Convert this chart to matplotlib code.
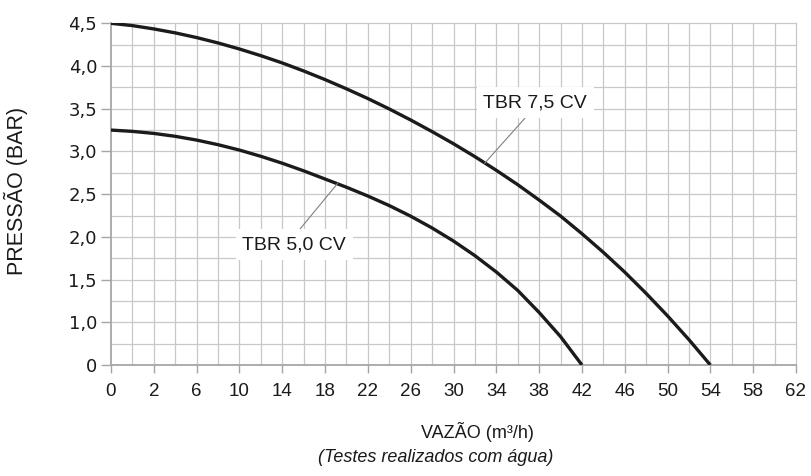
import numpy as np
import matplotlib
matplotlib.use("Agg")
import matplotlib.pyplot as plt

# ---- data ----
flow_ticks = [0, 2, 6, 10, 14, 18, 22, 26, 30, 34, 38, 42, 46, 50, 54, 58, 62]
pressure_ticks = [0, 1.0, 1.5, 2.0, 2.5, 3.0, 3.5, 4.0, 4.5]
pressure_labels = ["0", "1,0", "1,5", "2,0", "2,5", "3,0", "3,5", "4,0", "4,5"]

flow_75 = [0, 1, 2, 4, 6, 8, 10, 12, 14, 16, 18, 20, 22, 24, 26, 28, 30,
           32, 34, 36, 38, 40, 42, 44, 46, 48, 50, 52, 54]
pres_75 = [4.5, 4.473, 4.434, 4.388, 4.333, 4.270, 4.199, 4.121, 4.036,
           3.942, 3.841, 3.733, 3.619, 3.497, 3.368, 3.232, 3.090, 2.939,
           2.779, 2.611, 2.431, 2.244, 2.037, 1.819, 1.587, 1.338, 1.075,
           0.592, 0.0]

flow_50 = [0, 1, 2, 4, 6, 8, 10, 12, 14, 16, 18, 20, 22, 24, 26, 28, 30,
           32, 34, 36, 38, 40, 42]
pres_50 = [3.25, 3.235, 3.211, 3.177, 3.133, 3.079, 3.016, 2.943, 2.862,
           2.773, 2.677, 2.581, 2.478, 2.366, 2.242, 2.104, 1.951, 1.780,
           1.589, 1.373, 1.115, 0.665, 0.0]

label_75 = "TBR 7,5 CV"
label_50 = "TBR 5,0 CV"

plt.rcParams['font.family'] = ['Liberation Sans', 'DejaVu Sans']

# the chart's axes are spaced by tick label, not linearly
def xpos(v):
    return np.interp(v, flow_ticks, np.arange(len(flow_ticks)))

def ypos(p):
    return np.interp(p, pressure_ticks, np.arange(len(pressure_ticks)))

fig = plt.figure(figsize=(8.11, 4.76), dpi=100)
ax = fig.add_axes([111 / 811, 111 / 476, (796 - 111) / 811, (365 - 23.3) / 476])

nx = len(flow_ticks) - 1
ny = len(pressure_ticks) - 1
ax.set_xlim(0, nx)
ax.set_ylim(0, ny)

grid_c = "#c8c8c8"
for gx in np.arange(0.5, nx + 0.01, 0.5):
    ax.axvline(gx, color=grid_c, lw=0.9, zorder=1, clip_on=False)
for gy in np.arange(0.5, ny + 0.01, 0.5):
    ax.axhline(gy, color=grid_c, lw=0.9, zorder=1, clip_on=False)

for s in ["top", "right"]:
    ax.spines[s].set_visible(False)
for s in ["left", "bottom"]:
    ax.spines[s].set_color("#a6a6a6")
    ax.spines[s].set_linewidth(1.3)

ax.set_xticks(np.arange(nx + 1))
ax.set_xticklabels([str(v) for v in flow_ticks])
ax.set_yticks(np.arange(ny + 1))
ax.set_yticklabels(pressure_labels, fontfamily="DejaVu Sans")
ax.tick_params(axis="x", length=6, width=1.0, color="#a6a6a6", pad=7,
               labelsize=13.5, labelcolor="#1a1a1a")
ax.tick_params(axis="y", length=7, width=1.0, color="#a6a6a6", pad=3,
               labelsize=13, labelcolor="#1a1a1a")

curve_c = "#1c1a1a"
ax.plot(xpos(flow_75), ypos(pres_75), color=curve_c, lw=2.4,
        solid_joinstyle="round", solid_capstyle="butt", zorder=3)
ax.plot(xpos(flow_50), ypos(pres_50), color=curve_c, lw=2.4,
        solid_joinstyle="round", solid_capstyle="butt", zorder=3)

box = dict(boxstyle="square,pad=0.35", fc="white", ec="none")
ax.annotate(label_75, xy=(xpos(32.9), ypos(2.86)), xytext=(9.91, 6.14),
            ha="center", va="center", fontsize=14, color="#1a1a1a",
            bbox=box, zorder=4,
            arrowprops=dict(arrowstyle="-", color="#808080", lw=0.8,
                            shrinkA=0, shrinkB=0, relpos=(0.46, 0.0)))
ax.annotate(label_50, xy=(xpos(19.2), ypos(2.63)), xytext=(4.28, 2.82),
            ha="center", va="center", fontsize=14, color="#1a1a1a",
            bbox=box, zorder=4,
            arrowprops=dict(arrowstyle="-", color="#808080", lw=0.8,
                            shrinkA=0, shrinkB=0, relpos=(0.5, 1.0)))

ax.set_ylabel("PRESSÃO (BAR)", fontsize=15.5, color="#1a1a1a")
ax.yaxis.set_label_coords((28 - 111) / 685, (365 - 191) / 341.7)
fig.text(477 / 811, 1 - 432 / 476, "VAZÃO (m³/h)", ha="center", va="center",
         fontsize=13, color="#1a1a1a")
fig.text(436 / 811, 1 - 458 / 476, "(Testes realizados com água)",
         ha="center", va="center", fontsize=13, style="italic", color="#1a1a1a")

fig.savefig("out.png", dpi=100)
